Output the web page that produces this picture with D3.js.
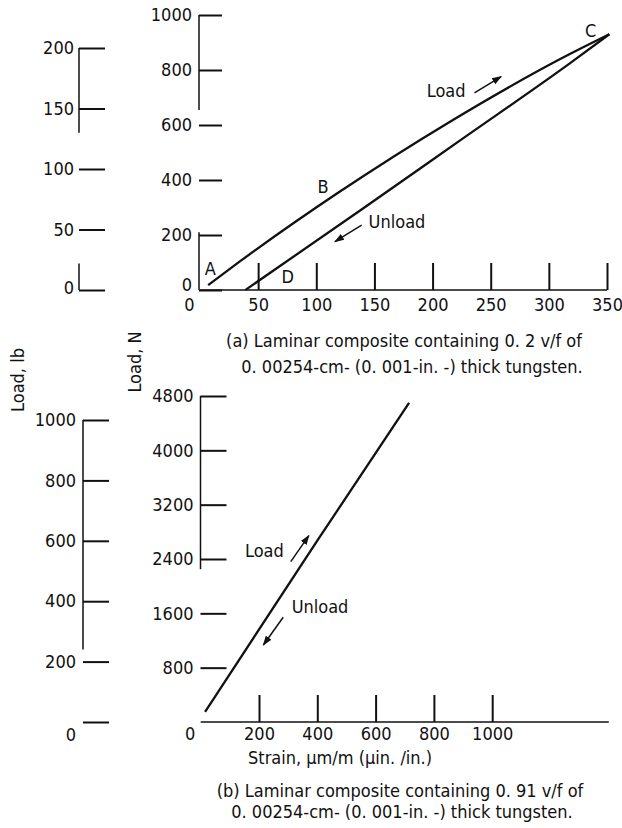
<!DOCTYPE html>
<html>
<head>
<meta charset="utf-8">
<script src="https://cdn.jsdelivr.net/npm/d3@7"></script>
<style>
  body { margin: 0; background: #fff; }
  svg text {
    font-family: "Liberation Sans Narrow", "DejaVu Sans Condensed", "Arial Narrow", sans-serif;
    font-stretch: condensed;
    font-size: 18px;
    fill: #111;
  }
  .axis path { display: none; }
  .axis line { stroke: #111; stroke-width: 2; }
</style>
</head>
<body>
<div class="canvas"></div>
<script>
// panel (a): 0.2 v/f tungsten
const strainTicksA = [0, 50, 100, 150, 200, 250, 300, 350];
const forceTicksA = [0, 200, 400, 600, 800, 1000];
const lbTicksA = [0, 50, 100, 150, 200];
const loadStrainA = [7, 34, 120, 215, 318, 352];
const loadForceA = [18, 103, 357, 612, 858, 930];
const unloadStrainA = [39, 138, 224, 318, 352];
const unloadForceA = [0, 290, 545, 824, 930];

// panel (b): 0.91 v/f tungsten
const strainTicksB = [0, 200, 400, 600, 800, 1000];
const forceTicksB = [800, 1600, 2400, 3200, 4000, 4800];
const lbTicksB = [0, 200, 400, 600, 800, 1000];
const lineStrainB = [15, 400, 715];
const lineForceB = [150, 2670, 4700];

// point letters and load/unload notes, in data units
const lettersA = [
  { t: 'A', x: 4, y: 55 },
  { t: 'B', x: 101, y: 353 },
  { t: 'C', x: 331, y: 920 },
  { t: 'D', x: 70, y: 25 },
  { t: 'Load', x: 195, y: 702 },
  { t: 'Unload', x: 145, y: 225 },
];
const arrowsA = [
  [[236, 717], [259, 776]],
  [[139, 236], [116, 176]],
];
const lettersB = [
  { t: 'Load', x: 152, y: 2430 },
  { t: 'Unload', x: 312, y: 1605 },
];
const arrowsB = [
  [[309, 2361], [371, 2744]],
  [[283, 1542], [215, 1134]],
];

const svg = d3
  .select('.canvas')
  .append('svg')
  .attr('width', 622)
  .attr('height', 828);

svg
  .append('defs')
  .append('marker')
  .attr('id', 'head')
  .attr('viewBox', '0 0 10 10')
  .attr('refX', 9)
  .attr('refY', 5)
  .attr('markerWidth', 10)
  .attr('markerHeight', 10)
  .attr('markerUnits', 'userSpaceOnUse')
  .attr('orient', 'auto')
  .append('path')
  .attr('d', 'M0,1.5 L10,5 L0,8.5 Z')
  .attr('fill', '#111');

const toPoints = (xs, ys) => xs.map((x, i) => [x, ys[i]]);
const fmt = d3.format('d');

// draws one panel
const panel = (cfg) => {
  const g = svg.append('g');
  const x = d3.scaleLinear().domain(cfg.xDomain).range(cfg.xRange);
  const y = d3.scaleLinear().domain(cfg.yDomain).range(cfg.yRange);
  const ylb = d3.scaleLinear().domain(cfg.lbDomain).range(cfg.lbRange);

  const seg = (x1, y1, x2, y2, w) =>
    g.append('line')
      .attr('x1', x1).attr('y1', y1).attr('x2', x2).attr('y2', y2)
      .attr('stroke', '#111').attr('stroke-width', w);

  // x axis
  const xAxis = g
    .append('g')
    .attr('class', 'axis')
    .attr('transform', `translate(0, ${y(0)})`)
    .call(d3.axisBottom(x).tickValues(cfg.xTicks).tickFormat(fmt).tickSize(-27).tickPadding(cfg.xPad));
  xAxis.selectAll('.tick').filter((d) => d === 0).select('line').remove();
  xAxis.selectAll('.tick').filter((d) => d === 0).select('text').attr('dx', -11);
  seg(x(0), y(0), x(cfg.xDomain[1]), y(0), 1.6);

  // load, N axis
  const yAxis = g
    .append('g')
    .attr('class', 'axis')
    .attr('transform', `translate(${cfg.nX}, 0)`)
    .call(d3.axisLeft(y).tickValues(cfg.yTicks).tickFormat(fmt).tickSize(-cfg.nTick).tickPadding(7));
  yAxis.selectAll('.tick').filter((d) => d === 0).select('text').attr('dy', '0.05em');
  cfg.nSegs.forEach((s) => seg(cfg.nX, y(s[0]), cfg.nX, y(s[1]), 1.5));

  // load, lb axis
  const lbAxis = g
    .append('g')
    .attr('class', 'axis')
    .attr('transform', `translate(${cfg.lbX}, 0)`)
    .call(d3.axisLeft(ylb).tickValues(cfg.lbTicks).tickFormat(fmt).tickSize(-26).tickPadding(cfg.lbPad));
  lbAxis.selectAll('.tick').filter((d) => d === 0).select('text').attr('dy', cfg.lbZeroDy);
  cfg.lbSegs.forEach((s) => seg(cfg.lbX, ylb(s[0]), cfg.lbX, ylb(s[1]), 1.5));

  // curves
  const line = d3.line().x((d) => x(d[0])).y((d) => y(d[1])).curve(d3.curveMonotoneX);
  cfg.curves.forEach((c) => {
    g.append('path')
      .attr('d', line(c))
      .attr('fill', 'none')
      .attr('stroke', '#111')
      .attr('stroke-width', 2.3)
      .attr('stroke-linejoin', 'round');
  });

  // notes
  g.selectAll('text.note')
    .data(cfg.letters)
    .enter()
    .append('text')
    .attr('class', 'note')
    .attr('x', (d) => x(d.x))
    .attr('y', (d) => y(d.y))
    .text((d) => d.t);

  g.selectAll('line.arrow')
    .data(cfg.arrows)
    .enter()
    .append('line')
    .attr('class', 'arrow')
    .attr('x1', (d) => x(d[0][0]))
    .attr('y1', (d) => y(d[0][1]))
    .attr('x2', (d) => x(d[1][0]))
    .attr('y2', (d) => y(d[1][1]))
    .attr('stroke', '#111')
    .attr('stroke-width', 1.5)
    .attr('marker-end', 'url(#head)');

  // caption
  const cap = g.append('text').attr('text-anchor', 'middle');
  cfg.caption.forEach((c) => {
    cap.append('tspan').attr('x', c.x).attr('y', c.y).text(c.t);
  });
};

panel({
  xDomain: [0, 350], xRange: [200, 607], xTicks: strainTicksA, xPad: 8,
  yDomain: [0, 1000], yRange: [290, 15], yTicks: forceTicksA,
  nX: 199, nTick: 23, nSegs: [[1000, 655], [210, 0]],
  lbDomain: [0, 200], lbRange: [290, 48], lbTicks: lbTicksA, lbX: 79, lbPad: 5,
  lbSegs: [[200, 130], [22, 0]], lbZeroDy: '0.2em',
  curves: [toPoints(loadStrainA, loadForceA), toPoints(unloadStrainA, unloadForceA)],
  letters: lettersA, arrows: arrowsA,
  caption: [
    { t: '(a) Laminar composite containing 0. 2 v/f of', x: 404, y: 347 },
    { t: '0. 00254-cm- (0. 001-in. -) thick tungsten.', x: 412, y: 373 },
  ],
});

panel({
  xDomain: [0, 1400], xRange: [200.7, 608.8], xTicks: strainTicksB, xPad: 5,
  yDomain: [0, 4800], yRange: [722, 396], yTicks: forceTicksB,
  nX: 200.5, nTick: 26, nSegs: [[4800, 2250]],
  lbDomain: [0, 1000], lbRange: [722, 420], lbTicks: lbTicksB, lbX: 83, lbPad: 7,
  lbSegs: [[1000, 240]], lbZeroDy: '1.05em',
  curves: [toPoints(lineStrainB, lineForceB)],
  letters: lettersB, arrows: arrowsB,
  caption: [
    { t: '(b) Laminar composite containing 0. 91 v/f of', x: 400, y: 797 },
    { t: '0. 00254-cm- (0. 001-in. -) thick tungsten.', x: 402, y: 818 },
  ],
});

// shared labels
svg.append('text')
  .attr('x', 248).attr('y', 764)
  .text('Strain, \u00b5m/m (\u00b5in. /in.)');

svg.append('text')
  .attr('transform', 'translate(24, 380) rotate(-90)')
  .attr('text-anchor', 'middle')
  .text('Load, lb');

svg.append('text')
  .attr('transform', 'translate(141, 362) rotate(-90)')
  .attr('text-anchor', 'middle')
  .text('Load, N');
</script>
</body>
</html>
